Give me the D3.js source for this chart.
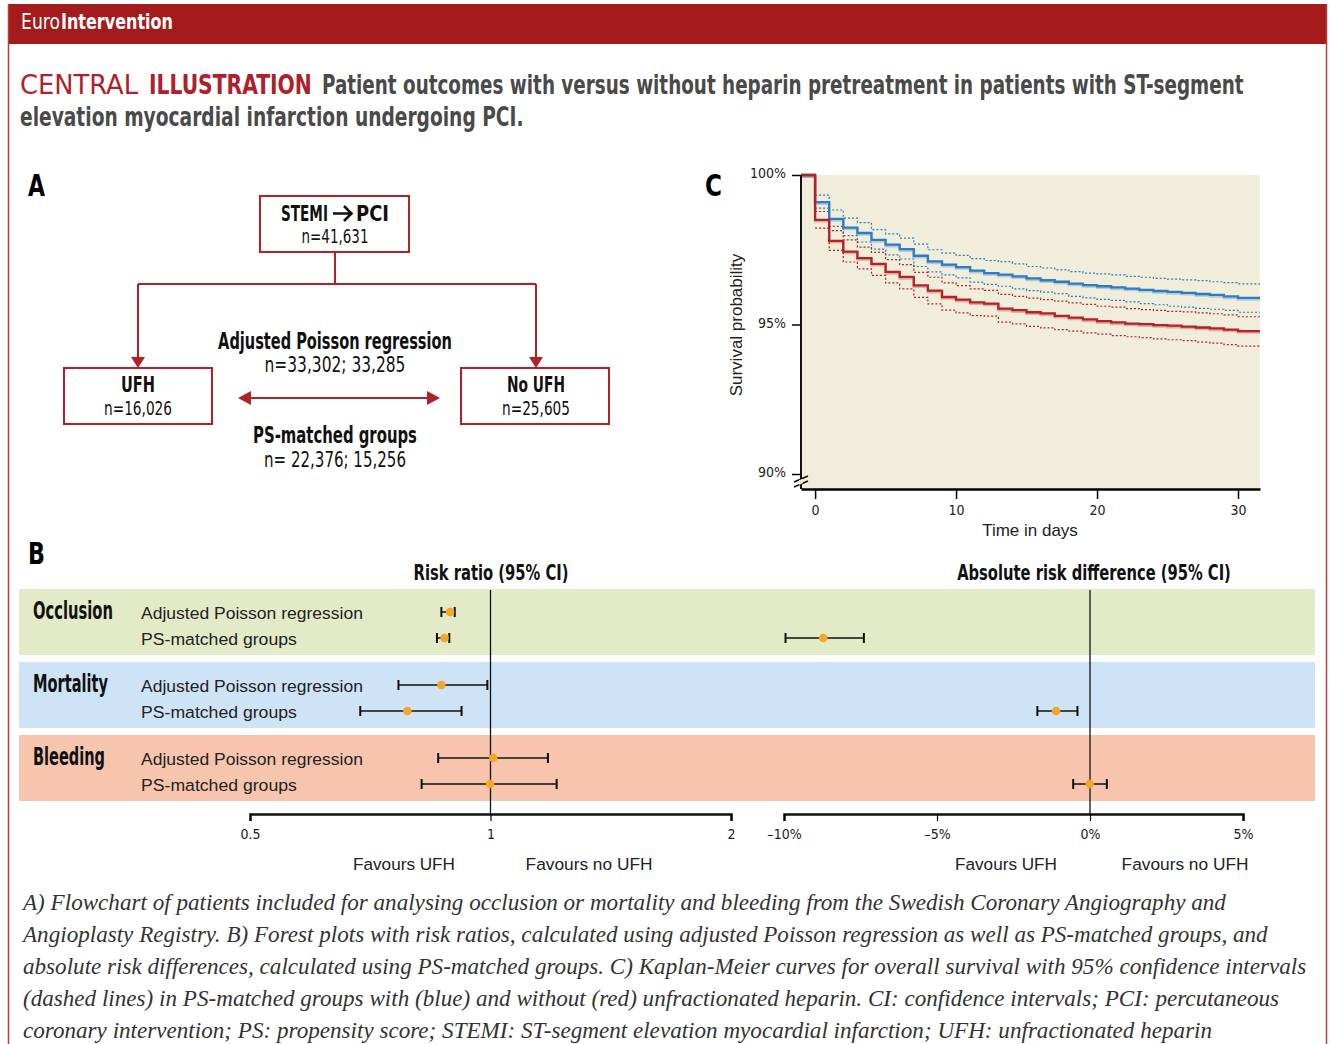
<!DOCTYPE html>
<html>
<head>
<meta charset="utf-8">
<script src="https://cdn.jsdelivr.net/npm/d3@7"></script>
<style>
  body { margin: 0; background: #fff; }
  svg { display: block; }
  .cond { font-family: "Liberation Sans Narrow", "DejaVu Sans Condensed", "Liberation Sans", Arial, sans-serif; }
  .plain { font-family: "Liberation Sans", Arial, sans-serif; }
  .cap { font-family: "Liberation Serif", "Times New Roman", serif; font-style: italic; }
</style>
</head>
<body>
<script>
// ---- data ----
// Kaplan-Meier (panel C): survival (%) after each step at day d
var kmDays = [0, 1, 2, 3, 4, 5, 6, 7, 8, 9, 10, 11, 12, 13, 14, 15, 16, 17, 18, 19, 20, 21, 22, 23, 24, 25, 26, 27, 28, 29, 30];
var blueSurv = [99.09, 98.53, 98.24, 98.06, 97.83, 97.67, 97.52, 97.30, 97.11, 97.00, 96.92, 96.80, 96.72, 96.67, 96.61, 96.54, 96.48, 96.43, 96.37, 96.32, 96.28, 96.24, 96.20, 96.16, 96.12, 96.09, 96.06, 96.02, 95.99, 95.94, 95.89];
var blueHi = [99.33, 98.83, 98.56, 98.41, 98.17, 98.03, 97.89, 97.69, 97.50, 97.39, 97.31, 97.20, 97.14, 97.10, 97.03, 96.94, 96.89, 96.83, 96.77, 96.72, 96.69, 96.66, 96.61, 96.58, 96.54, 96.52, 96.49, 96.47, 96.43, 96.40, 96.36];
var blueLo = [98.89, 98.28, 97.97, 97.76, 97.52, 97.33, 97.19, 96.94, 96.76, 96.66, 96.56, 96.42, 96.34, 96.28, 96.19, 96.13, 96.08, 96.03, 95.94, 95.89, 95.84, 95.81, 95.76, 95.70, 95.66, 95.61, 95.58, 95.54, 95.51, 95.47, 95.41];
var redSurv = [98.50, 97.80, 97.44, 97.22, 97.03, 96.76, 96.59, 96.31, 96.13, 95.92, 95.83, 95.74, 95.70, 95.53, 95.48, 95.41, 95.37, 95.29, 95.23, 95.17, 95.11, 95.07, 95.03, 95.01, 94.98, 94.96, 94.93, 94.90, 94.87, 94.83, 94.78];
var redHi = [98.78, 98.14, 97.83, 97.59, 97.41, 97.17, 97.00, 96.74, 96.58, 96.39, 96.30, 96.19, 96.14, 96.01, 95.94, 95.88, 95.83, 95.78, 95.72, 95.67, 95.61, 95.58, 95.53, 95.50, 95.47, 95.44, 95.42, 95.39, 95.36, 95.32, 95.26];
var redLo = [98.22, 97.48, 97.09, 96.86, 96.64, 96.39, 96.19, 95.91, 95.69, 95.48, 95.39, 95.30, 95.28, 95.08, 95.02, 94.94, 94.89, 94.83, 94.78, 94.72, 94.68, 94.63, 94.59, 94.56, 94.52, 94.49, 94.46, 94.41, 94.38, 94.33, 94.28];
var kmYTicks = [90, 95, 100];
var kmXTicks = [0, 10, 20, 30];

// Forest plots (panel B)
var outcomes = ["Occlusion", "Mortality", "Bleeding"];
var methods = ["Adjusted Poisson regression", "PS-matched groups"];
var rrEst  = [[0.890, 0.876], [0.868, 0.787], [1.008, 0.999]];
var rrLow  = [[0.868, 0.857], [0.767, 0.687], [0.860, 0.820]];
var rrHigh = [[0.902, 0.888], [0.991, 0.920], [1.180, 1.210]];
// absolute risk difference (%), PS-matched only
var ardEst  = [-8.72, -1.11, -0.01];
var ardLow  = [-9.95, -1.72, -0.55];
var ardHigh = [-7.39, -0.41, 0.55];
var rrTicks = [0.5, 1, 2];
var ardTicks = [-10, -5, 0, 5];

var captionLines = [
  "A) Flowchart of patients included for analysing occlusion or mortality and bleeding from the Swedish Coronary Angiography and",
  "Angioplasty Registry. B) Forest plots with risk ratios, calculated using adjusted Poisson regression as well as PS-matched groups, and",
  "absolute risk differences, calculated using PS-matched groups. C) Kaplan-Meier curves for overall survival with 95% confidence intervals",
  "(dashed lines) in PS-matched groups with (blue) and without (red) unfractionated heparin. CI: confidence intervals; PCI: percutaneous",
  "coronary intervention; PS: propensity score; STEMI: ST-segment elevation myocardial infarction; UFH: unfractionated heparin"
];
var captionWidths = [1204, 1245, 1284, 1257, 1190];

// ---- page ----
var svgWidth = 1331;
var svgHeight = 1044;
var darkRed = "#a51b1b";
var boxRed = "#b22125";
var blue = "#2c7bc4";
var kmRed = "#b32226";

var svg = d3.select("body").append("svg")
  .attr("width", svgWidth)
  .attr("height", svgHeight);

// squeeze/stretch a text horizontally so it spans w pixels (the original uses a condensed face)
function fit(t, w) {
  var n = t.node().getComputedTextLength();
  var x = +t.attr("x"), y = +t.attr("y");
  t.attr("x", 0).attr("y", 0)
    .attr("transform", "translate(" + x + "," + y + ") scale(" + (w / n) + ",1)");
  return t;
}

// frame + header band
svg.append("rect").attr("x", 8).attr("y", 4).attr("width", 1319).attr("height", 40).attr("fill", darkRed);
svg.append("line").attr("x1", 8.5).attr("x2", 8.5).attr("y1", 4).attr("y2", svgHeight).attr("stroke", "#c0393b").attr("stroke-width", 1.5);
svg.append("line").attr("x1", 1326.5).attr("x2", 1326.5).attr("y1", 4).attr("y2", svgHeight).attr("stroke", "#c0393b").attr("stroke-width", 1.5);

fit(svg.append("text").attr("class", "cond").attr("x", 21).attr("y", 29)
  .attr("fill", "#fff").attr("font-size", 22).text("Euro"), 39);
fit(svg.append("text").attr("class", "cond").attr("x", 61).attr("y", 29)
  .attr("fill", "#fff").attr("font-size", 22).attr("font-weight", "bold").text("Intervention"), 112);

// title
fit(svg.append("text").attr("class", "cond").attr("x", 20).attr("y", 94).attr("font-size", 27)
  .attr("fill", "#b0202a").text("CENTRAL"), 118);
fit(svg.append("text").attr("class", "cond").attr("x", 149).attr("y", 94).attr("font-size", 27)
  .attr("fill", "#b0202a").attr("font-weight", "bold").text("ILLUSTRATION"), 163);
fit(svg.append("text").attr("class", "cond").attr("x", 322).attr("y", 94).attr("font-size", 27)
  .attr("fill", "#4a4a4a").attr("font-weight", "bold")
  .text("Patient outcomes with versus without heparin pretreatment in patients with ST-segment"), 922);
fit(svg.append("text").attr("class", "cond").attr("x", 20).attr("y", 126).attr("font-size", 27)
  .attr("fill", "#4a4a4a").attr("font-weight", "bold")
  .text("elevation myocardial infarction undergoing PCI."), 504);

// panel letters
[["A", 28, 196], ["C", 705, 196], ["B", 28, 564]].forEach(function(p) {
  fit(svg.append("text").attr("class", "cond").attr("x", p[1]).attr("y", p[2])
    .attr("font-size", 30).attr("font-weight", "bold").text(p[0]), 17);
});

// ---- panel A: flowchart ----
var flow = svg.append("g");
function box(x, y, w, h) {
  flow.append("rect").attr("x", x).attr("y", y).attr("width", w).attr("height", h)
    .attr("fill", "none").attr("stroke", boxRed).attr("stroke-width", 2);
}
function label(x, y, txt, bold, size, w, anchor) {
  fit(flow.append("text").attr("class", "cond").attr("x", x).attr("y", y)
    .attr("text-anchor", anchor || "middle").attr("font-size", size)
    .attr("font-weight", bold ? "bold" : "normal").attr("fill", "#111").text(txt), w);
}
box(260, 196, 149, 56);
box(64, 368, 148, 56);
box(461, 368, 148, 56);
label(281, 221, "STEMI", true, 22, 47, "start");
label(356, 221, "PCI", true, 22, 33, "start");
flow.append("path").attr("d", "M333,213.5 H351 M344,206 L351.5,213.5 L344,221")
  .attr("fill", "none").attr("stroke", "#111").attr("stroke-width", 2.6);
label(335, 243, "n=41,631", false, 20, 67);
label(138, 392, "UFH", true, 22, 34);
label(138, 415, "n=16,026", false, 20, 68);
label(536, 392, "No UFH", true, 22, 58);
label(536, 415, "n=25,605", false, 20, 68);
label(335, 349, "Adjusted Poisson regression", true, 23, 234);
label(335, 372, "n=33,302; 33,285", false, 21, 141);
label(335, 443, "PS-matched groups", true, 23, 164);
label(335, 467, "n= 22,376; 15,256", false, 21, 142);

flow.append("path")
  .attr("d", "M335,252 V284 M138,284 H536 M138,284 V358 M536,284 V358 M250,398 H428")
  .attr("fill", "none").attr("stroke", boxRed).attr("stroke-width", 2);
flow.append("path")
  .attr("d", "M131,357 L145,357 L138,368 Z M529,357 L543,357 L536,368 Z M238,398 L251,391 L251,405 Z M440,398 L427,391 L427,405 Z")
  .attr("fill", boxRed);

// ---- panel C: Kaplan-Meier ----
var kmX = d3.scaleLinear().domain([-1, 31.56]).range([801, 1260]);
var kmY = d3.scaleLinear().domain([90, 100]).range([474, 175]);
var km = svg.append("g");

km.append("rect").attr("x", kmX(-1)).attr("y", kmY(100))
  .attr("width", kmX(31.56) - kmX(-1)).attr("height", kmY(89.5) - kmY(100))
  .attr("fill", "#f1eddb");

var stepLine = d3.line().x(d => kmX(d[0])).y(d => kmY(d[1])).curve(d3.curveStepAfter);
function kmPoints(vals, withStart) {
  var pts = withStart ? [[-1, 100]] : [];
  kmDays.forEach(function(d, i) { pts.push([d, vals[i]]); });
  pts.push([31.56, vals[vals.length - 1]]);
  return pts;
}
[[blueHi, blue], [blueLo, blue], [redHi, kmRed], [redLo, kmRed]].forEach(function(s) {
  km.append("path").attr("d", stepLine(kmPoints(s[0], false)))
    .attr("fill", "none").attr("stroke", s[1]).attr("stroke-width", 1.2)
    .attr("stroke-dasharray", "2,2");
});
[[blueSurv, blue], [redSurv, kmRed]].forEach(function(s) {
  km.append("path").attr("d", stepLine(kmPoints(s[0], true)))
    .attr("transform", "translate(0,1.5)")
    .attr("fill", "none").attr("stroke", s[1]).attr("stroke-opacity", 0.3).attr("stroke-width", 2.5);
  km.append("path").attr("d", stepLine(kmPoints(s[0], true)))
    .attr("fill", "none").attr("stroke", s[1]).attr("stroke-width", 2.3);
});

// axes
var kmYAxis = d3.axisLeft(kmY).tickValues(kmYTicks).tickFormat(d => d + "%").tickSize(9).tickPadding(6);
var gy = km.append("g").attr("transform", "translate(801,0)").call(kmYAxis);
gy.select(".domain").remove();
gy.selectAll(".tick line").attr("stroke-width", 1.5);
gy.selectAll("text").attr("class", "cond").attr("font-size", 14).attr("fill", "#222")
  .attr("dy", "0.2em");
km.append("line").attr("x1", 801).attr("x2", 801).attr("y1", kmY(100)).attr("y2", kmY(89.5))
  .attr("stroke", "#111").attr("stroke-width", 2);
// axis break mark
km.append("path").attr("d", "M794,482 L808,476 M794,487 L808,481")
  .attr("stroke", "#111").attr("stroke-width", 1.5);
km.append("path").attr("d", "M799,480 L803,479 L803,483 L799,485 Z").attr("fill", "#f1eddb");

var kmXAxis = d3.axisBottom(kmX).tickValues(kmXTicks).tickSize(10).tickPadding(6).tickSizeOuter(0);
var gx = km.append("g").attr("transform", "translate(0," + kmY(89.5) + ")").call(kmXAxis);
gx.select(".domain").attr("stroke-width", 2.5);
gx.selectAll(".tick line").attr("stroke-width", 1.5);
gx.selectAll("text").attr("class", "cond").attr("font-size", 14).attr("fill", "#222");

km.append("text").attr("class", "plain").attr("x", 1030).attr("y", 536)
  .attr("text-anchor", "middle").attr("font-size", 17).attr("fill", "#222").text("Time in days");
km.append("text").attr("class", "plain")
  .attr("transform", "translate(742,325) rotate(-90)")
  .attr("text-anchor", "middle").attr("font-size", 17).attr("fill", "#222").text("Survival probability");

// ---- panel B: forest plots ----
var bandColors = ["#e2eac8", "#cfe3f6", "#f7c5ae"];
var rowY = d3.scaleBand().domain(outcomes).range([589, 801]).paddingInner(0.096);
var rrX = d3.scaleLog().domain([0.5, 2]).range([250, 731]);
var ardX = d3.scaleLinear().domain([-10, 5]).range([784, 1243]);
var forest = svg.append("g");
var axisY = 814;

forest.selectAll("rect.band").data(outcomes).enter().append("rect")
  .attr("class", "band")
  .attr("x", 19).attr("width", 1296)
  .attr("y", d => rowY(d)).attr("height", rowY.bandwidth())
  .attr("fill", (d, i) => bandColors[i]);

outcomes.forEach(function(o, i) {
  fit(forest.append("text").attr("class", "cond").attr("x", 33).attr("y", rowY(o) + 30)
    .attr("font-size", 24).attr("font-weight", "bold").attr("fill", "#111").text(o),
    [80, 75, 72][i]);
  methods.forEach(function(m, j) {
    fit(forest.append("text").attr("class", "plain").attr("x", 141).attr("y", rowY(o) + 30 + j * 26)
      .attr("font-size", 17).attr("fill", "#222").text(m), j === 0 ? 222 : 156);
  });
});

// section headers
fit(forest.append("text").attr("class", "cond").attr("x", 491).attr("y", 580).attr("text-anchor", "middle")
  .attr("font-size", 22).attr("font-weight", "bold").attr("fill", "#111").text("Risk ratio (95% CI)"), 155);
fit(forest.append("text").attr("class", "cond").attr("x", 1094).attr("y", 580).attr("text-anchor", "middle")
  .attr("font-size", 22).attr("font-weight", "bold").attr("fill", "#111").text("Absolute risk difference (95% CI)"), 274);

// reference lines
forest.append("line").attr("x1", rrX(1)).attr("x2", rrX(1)).attr("y1", 590).attr("y2", axisY)
  .attr("stroke", "#111").attr("stroke-width", 1.3);
forest.append("line").attr("x1", ardX(0)).attr("x2", ardX(0)).attr("y1", 590).attr("y2", axisY)
  .attr("stroke", "#111").attr("stroke-width", 1.3);

function ciMark(x1, x2, xm, y) {
  forest.append("line").attr("x1", x1).attr("x2", x2).attr("y1", y).attr("y2", y)
    .attr("stroke", "#111").attr("stroke-width", 1.5);
  forest.append("path").attr("d", "M" + x1 + "," + (y - 5) + "V" + (y + 5) + "M" + x2 + "," + (y - 5) + "V" + (y + 5))
    .attr("stroke", "#111").attr("stroke-width", 2);
  forest.append("circle").attr("cx", xm).attr("cy", y).attr("r", 4.3).attr("fill", "#f5a623");
}

outcomes.forEach(function(o, i) {
  methods.forEach(function(m, j) {
    var y = rowY(o) + 23 + j * 26;
    ciMark(rrX(rrLow[i][j]), rrX(rrHigh[i][j]), rrX(rrEst[i][j]), y);
  });
  ciMark(ardX(ardLow[i]), ardX(ardHigh[i]), ardX(ardEst[i]), rowY(o) + 49);
});

// forest axes
var rrAxis = d3.axisBottom(rrX).tickValues(rrTicks).tickFormat(d => String(d)).tickSize(7).tickPadding(8);
var ardAxis = d3.axisBottom(ardX).tickValues(ardTicks)
  .tickFormat(d => (d < 0 ? "\u2013" + Math.abs(d) : d) + "%").tickSize(7).tickPadding(8);
[rrAxis, ardAxis].forEach(function(ax) {
  var g = forest.append("g").attr("transform", "translate(0," + axisY + ")").call(ax);
  g.select(".domain").attr("stroke-width", 2.5).attr("stroke", "#111");
  g.selectAll(".tick line").attr("stroke-width", 1.2);
  g.selectAll("text").attr("class", "cond").attr("font-size", 14).attr("fill", "#222");
});

[["Favours UFH", 404, 102], ["Favours no UFH", 589, 127], ["Favours UFH", 1006, 102], ["Favours no UFH", 1185, 127]]
  .forEach(function(f) {
    fit(forest.append("text").attr("class", "plain").attr("x", f[1]).attr("y", 870)
      .attr("text-anchor", "middle").attr("font-size", 17).attr("fill", "#222").text(f[0]), f[2]);
  });

// ---- caption ----
captionLines.forEach(function(line, i) {
  fit(svg.append("text").attr("class", "cap").attr("x", 23).attr("y", 910 + i * 32)
    .attr("font-size", 23).attr("fill", "#333").text(line), captionWidths[i]);
});
</script>
</body>
</html>
